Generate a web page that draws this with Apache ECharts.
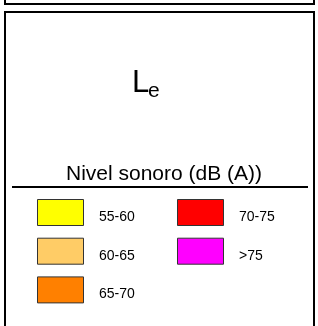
<!DOCTYPE html>
<html>
<head>
<meta charset="utf-8">
<script src="https://cdn.jsdelivr.net/npm/echarts@6/dist/echarts.min.js"></script>
<style>
  html, body { margin: 0; padding: 0; background: #fff; }
  #main { width: 318px; height: 326px; }
</style>
</head>
<body>
<div id="main"></div>
<script>
// leyenda: rangos de nivel sonoro y sus colores
var rangos = ['55-60', '60-65', '65-70', '70-75', '>75'];
var colores = ['#FFFF00', '#FFCC66', '#FF8000', '#FF0000', '#FF00FF'];
// columna y fila de cada rango
var columnas = [0, 0, 0, 1, 1];
var filas = [0, 1, 2, 0, 1];
var titulo = 'Nivel sonoro (dB (A))';

var fuente = '"Liberation Sans", Arial, sans-serif';
var chart = echarts.init(document.getElementById('main'), null, { renderer: 'canvas' });

var elementos = [
    // caja superior (solo se ve el borde inferior)
    { type: 'rect', shape: { x: 5, y: -20, width: 309, height: 24 },
      style: { fill: 'none', stroke: '#000', lineWidth: 2 } },
    // caja de la leyenda
    { type: 'rect', shape: { x: 5, y: 12, width: 309, height: 340 },
      style: { fill: '#fff', stroke: '#000', lineWidth: 2 } },
    { type: 'text', x: 132, y: 83,
      style: { text: 'L', font: '31px ' + fuente, fill: '#000', textAlign: 'left', textVerticalAlign: 'middle' } },
    { type: 'text', x: 148, y: 91.5,
      style: { text: 'e', font: '21px ' + fuente, fill: '#000', textAlign: 'left', textVerticalAlign: 'middle' } },
    { type: 'text', x: 164, y: 174,
      style: { text: titulo, font: '21px ' + fuente, fill: '#000', textAlign: 'center', textVerticalAlign: 'middle' } },
    { type: 'line', shape: { x1: 12, y1: 187, x2: 308, y2: 187 },
      style: { stroke: '#000', lineWidth: 2 } }
];

for (var k = 0; k < rangos.length; k++) {
    var x0 = columnas[k] === 0 ? 37.5 : 177.5;
    var y0 = 199.5 + filas[k] * 38.7;
    elementos.push({
        type: 'rect', shape: { x: x0, y: y0, width: 46, height: 26 },
        style: { fill: colores[k], stroke: '#333', lineWidth: 1 }
    });
    elementos.push({
        type: 'text', x: x0 + 61.5, y: y0 + 17.5,
        style: { text: rangos[k], font: '14px ' + fuente, fill: '#000', textAlign: 'left', textVerticalAlign: 'middle' }
    });
}

chart.setOption({
    backgroundColor: '#fff',
    animation: false,
    graphic: { elements: elementos }
});
</script>
</body>
</html>
